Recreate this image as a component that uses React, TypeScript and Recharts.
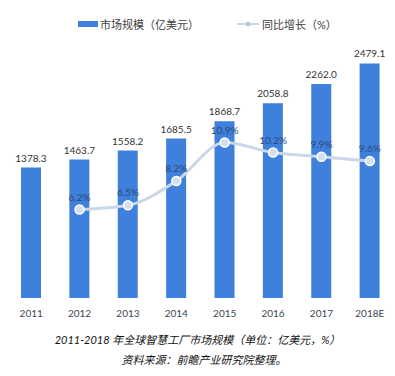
import React from "react";
import {
  ComposedChart,
  Bar,
  Line,
  XAxis,
  YAxis,
  LabelList,
} from "recharts";

const years = ["2011", "2012", "2013", "2014", "2015", "2016", "2017", "2018E"];
const marketSize = [1378.3, 1463.7, 1558.2, 1685.5, 1868.7, 2058.8, 2262.0, 2479.1];
const growth: (number | null)[] = [null, 6.2, 6.5, 8.2, 10.9, 10.2, 9.9, 9.6];

const data = years.map((y, i) => ({
  year: y,
  size: marketSize[i],
  growth: growth[i],
}));

const FONT = '"Lato", "Noto Sans CJK SC", sans-serif';
const BAR_COLOR = "#3f80dc";
const LINE_COLOR = "#c9d7e8";

function GrowthDot(props: any) {
  const { cx, cy, value } = props;
  if (value == null || cx == null || cy == null) return null;
  return <circle cx={cx} cy={cy} r={4.5} fill="#d4e0ef" stroke="#ffffff" strokeWidth={1.5} />;
}

export default function App() {
  return (
    <div
      style={{
        position: "absolute",
        left: 0,
        top: 0,
        width: 395,
        height: 376,
        background: "#fff",
        fontFamily: FONT,
      }}
    >
      {/* legend */}
      <div style={{ position: "absolute", top: 16, left: 78, display: "flex", alignItems: "center", fontSize: 11, color: "#404040" }}>
        <span style={{ display: "inline-block", width: 20, height: 6, background: BAR_COLOR, marginRight: 2 }} />
        <span>市场规模（亿美元）</span>
      </div>
      <div style={{ position: "absolute", top: 16, left: 237, display: "flex", alignItems: "center", fontSize: 11, color: "#404040" }}>
        <svg width={22} height={8} style={{ marginRight: 3 }}>
          <line x1={0} y1={4} x2={22} y2={4} stroke={LINE_COLOR} strokeWidth={2} />
          <circle cx={11} cy={4} r={2.5} fill="#b9cbe2" />
        </svg>
        <span>同比增长（%）</span>
      </div>

      <ComposedChart
        width={395}
        height={376}
        data={data}
        margin={{ top: 52, right: 1, bottom: 58, left: 7 }}
      >
        <XAxis
          dataKey="year"
          axisLine={false}
          tickLine={false}
          height={20}
          tick={{ fontSize: 10, fill: "#3a4656", fontFamily: FONT }}
          tickMargin={6}
          interval={0}
        />
        <YAxis yAxisId="left" hide domain={[0, 2600]} />
        <YAxis yAxisId="right" orientation="right" hide domain={[0, 17.25]} />
        <Bar yAxisId="left" dataKey="size" fill={BAR_COLOR} barSize={20} isAnimationActive={false}>
          <LabelList
            dataKey="size"
            position="top"
            offset={6}
            formatter={(v: any) => Number(v).toFixed(1)}
            style={{ fontSize: 10, fill: "#333", fontFamily: FONT }}
          />
        </Bar>
        <Line
          yAxisId="right"
          type="monotone"
          dataKey="growth"
          stroke={LINE_COLOR}
          strokeWidth={3}
          dot={<GrowthDot />}
          activeDot={false}
          connectNulls
          isAnimationActive={false}
        >
          <LabelList
            dataKey="growth"
            position="top"
            offset={9}
            formatter={(v: any) => (v == null ? "" : `${Number(v).toFixed(1)}%`)}
            style={{ fontSize: 10, fill: "#2b4a72", fontFamily: FONT }}
          />
        </Line>
      </ComposedChart>

      {/* caption */}
      <div
        style={{
          position: "absolute",
          top: 332,
          left: 0,
          width: 395,
          textAlign: "center",
          fontSize: 11,
          fontStyle: "italic",
          color: "#111",
          lineHeight: "16px",
        }}
      >
        2011-2018 年全球智慧工厂市场规模（单位：亿美元，%）
      </div>
      <div
        style={{
          position: "absolute",
          top: 352,
          left: 0,
          width: 408,
          textAlign: "center",
          fontSize: 11,
          fontStyle: "italic",
          color: "#111",
          lineHeight: "16px",
        }}
      >
        资料来源：前瞻产业研究院整理。
      </div>
    </div>
  );
}
